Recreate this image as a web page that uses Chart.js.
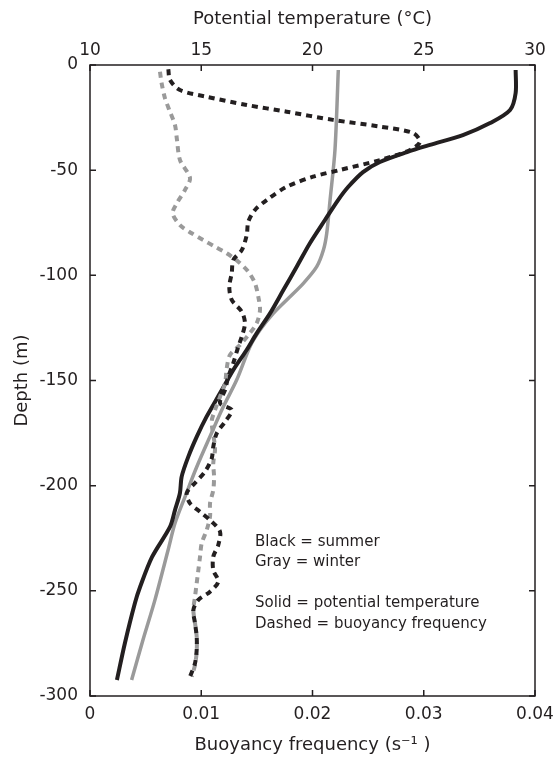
<!DOCTYPE html>
<html><head><meta charset="utf-8">
<style>html,body{margin:0;padding:0;background:#fff;}#wrap{width:556px;height:757px;}</style>
<script src="https://cdn.jsdelivr.net/npm/chart.js@4.4.1/dist/chart.umd.min.js"></script>
</head><body><div id="wrap"><canvas id="c" width="556" height="757"></canvas></div>
<script>
// ---- data (depth in m, temperature in °C, buoyancy frequency in s^-1) ----
const summerTempDepth = [-2.4,-13.3,-21.4,-27.6,-33.3,-38.0,-41.4,-46.1,-50.9,-58.0,-64.2,-73.7,-84.6,-95.9,-107.0,-118.1,-127.6,-135.5,-145.0,-156.1,-167.2,-176.7,-186.2,-195.7,-203.6,-211.6,-219.5,-233.9,-248.2,-255.8,-274.8,-292.4];
const summerTemp      = [29.13,29.13,28.88,27.98,26.76,25.28,24.25,23.03,22.27,21.60,21.15,20.56,19.89,19.29,18.69,18.09,17.49,17.04,16.44,15.84,15.24,14.80,14.42,14.12,14.04,13.82,13.60,12.79,12.25,12.02,11.57,11.21];

const winterTempDepth = [-2.4,-40.4,-64.2,-80.0,-88.0,-95.9,-103.8,-111.7,-118.1,-126.0,-133.9,-149.8,-162.5,-176.7,-191.0,-205.3,-217.9,-230.6,-254.3,-273.4,-292.4];
const winterTemp      = [21.16,21.01,20.79,20.64,20.49,20.19,19.59,18.84,18.24,17.64,17.19,16.59,15.99,15.39,14.80,14.27,13.82,13.51,12.92,12.38,11.87];

const summerFreqDepth = [-2.0,-7.1,-11.9,-15.1,-19.0,-22.2,-26.1,-29.3,-32.3,-36.5,-40.4,-45.2,-49.9,-53.1,-57.9,-64.2,-68.9,-74.5,-80.8,-88.0,-92.7,-99.0,-105.4,-111.7,-117.3,-122.8,-129.2,-133.9,-141.7,-148.2,-154.5,-160.8,-164.0,-169.6,-175.1,-181.5,-187.0,-193.3,-198.7,-203.5,-208.4,-212.4,-217.1,-221.9,-228.2,-233.8,-240.1,-245.6,-250.4,-254.3,-259.1,-265.4,-271.8,-278.1,-284.4,-290.8];
const summerFreq      = [0.00704,0.00719,0.00809,0.01049,0.01409,0.01768,0.02184,0.02607,0.02903,0.02966,0.02877,0.02607,0.02247,0.02005,0.01768,0.01588,0.01483,0.01423,0.01409,0.01364,0.01288,0.01274,0.01252,0.01274,0.01364,0.01393,0.01364,0.01333,0.01288,0.01243,0.01214,0.01169,0.01274,0.01214,0.01139,0.01108,0.01094,0.01034,0.00944,0.00870,0.00899,0.00989,0.01094,0.01169,0.01153,0.01108,0.01108,0.01153,0.01079,0.00974,0.00929,0.00944,0.00959,0.00959,0.00944,0.00899];

const winterFreqDepth = [-3.2,-8.7,-15.8,-22.2,-28.5,-35.7,-45.2,-53.7,-59.4,-65.6,-70.5,-76.1,-80.0,-83.2,-86.4,-89.5,-93.5,-98.3,-103.8,-110.2,-116.5,-122.8,-128.4,-133.1,-137.9,-144.2,-151.3,-157.7,-164.0,-169.6,-182.2,-189.4,-195.7,-202.1,-208.4,-214.7,-221.1,-227.4,-233.8,-240.1,-246.4,-252.8,-259.1,-265.3,-271.8,-278.9,-285.2,-290.8];
const winterFreq      = [0.00629,0.00644,0.00674,0.00719,0.00764,0.00782,0.00809,0.00899,0.00854,0.00782,0.00743,0.00809,0.00914,0.01018,0.01124,0.01229,0.01333,0.01423,0.01483,0.01513,0.01528,0.01498,0.01423,0.01348,0.01258,0.01229,0.01214,0.01169,0.01124,0.01094,0.01124,0.01108,0.01115,0.01108,0.01079,0.01079,0.01049,0.01004,0.00989,0.00974,0.00959,0.00944,0.00929,0.00944,0.00959,0.00959,0.00944,0.00914];

const depthTicks = [0,-50,-100,-150,-200,-250,-300];
const tempTicks = [10,15,20,25,30];
const freqTicks = [0,0.01,0.02,0.03,0.04];
const freqTickLabels = ['0','0.01','0.02','0.03','0.04'];
const notes = ['Black = summer','Gray = winter','','Solid = potential temperature','Dashed = buoyancy frequency'];

// ---- chart ----
const INK = '#231f20', GRAY = '#9a9a9a';
const FONT = "'DejaVu Sans', 'Liberation Sans', Arial, sans-serif";
const zip = (d, v) => d.map((y, i) => ({x: v[i], y}));
Chart.defaults.font.family = FONT;
Chart.defaults.font.size = 17;
Chart.defaults.color = INK;
const TITLE_FONT = { family: FONT, size: 18 };

const frame = {
  id: 'frame',
  afterDraw(chart) {
    const {ctx, chartArea: a, scales} = chart;
    ctx.save();
    ctx.strokeStyle = INK; ctx.lineWidth = 1.5;
    ctx.strokeRect(a.left, a.top, a.right - a.left, a.bottom - a.top);
    const L = 6;
    ctx.beginPath();
    depthTicks.forEach(v => { const p = scales.y.getPixelForValue(v);
      ctx.moveTo(a.left, p); ctx.lineTo(a.left + L, p);
      ctx.moveTo(a.right, p); ctx.lineTo(a.right - L, p); });
    tempTicks.forEach(v => { const p = scales.xT.getPixelForValue(v);
      ctx.moveTo(p, a.top); ctx.lineTo(p, a.top + L); });
    freqTicks.forEach(v => { const p = scales.xN.getPixelForValue(v);
      ctx.moveTo(p, a.bottom); ctx.lineTo(p, a.bottom - L); });
    ctx.stroke();
    ctx.fillStyle = INK; ctx.font = '15px ' + FONT;
    ctx.textAlign = 'left'; ctx.textBaseline = 'middle';
    notes.forEach((t, i) => { if (t) ctx.fillText(t, a.left + 165, a.top + 477 + i * 20.5); });
    ctx.restore();
  }
};

const noSidePad = s => { s.paddingLeft = 0; s.paddingRight = 0; };

new Chart(document.getElementById('c'), {
  type: 'scatter',
  data: { datasets: [
    { label: 'Summer N', data: zip(summerFreqDepth, summerFreq), xAxisID: 'xN', yAxisID: 'y', showLine: true, pointRadius: 0, borderColor: INK, borderWidth: 4, borderDash: [6,5], tension: 0.3, order: 0 },
    { label: 'Winter N', data: zip(winterFreqDepth, winterFreq), xAxisID: 'xN', yAxisID: 'y', showLine: true, pointRadius: 0, borderColor: GRAY, borderWidth: 4, borderDash: [6,5], tension: 0.3, order: 1 },
    { label: 'Summer T', data: zip(summerTempDepth, summerTemp), xAxisID: 'xT', yAxisID: 'y', showLine: true, pointRadius: 0, borderColor: INK, borderWidth: 4, tension: 0.3, order: 2 },
    { label: 'Winter T', data: zip(winterTempDepth, winterTemp), xAxisID: 'xT', yAxisID: 'y', showLine: true, pointRadius: 0, borderColor: GRAY, borderWidth: 3.5, tension: 0.3, order: 3 }
  ]},
  options: {
    responsive: false, animation: false, devicePixelRatio: 1,
    layout: { padding: { left: 0, right: 21, top: 0, bottom: 0 } },
    plugins: { legend: { display: false }, tooltip: { enabled: false } },
    scales: {
      y: { type: 'linear', position: 'left', min: -300, max: 0,
        afterBuildTicks: s => { s.ticks = depthTicks.map(v => ({value: v})); },
        ticks: { padding: 12, callback: v => String(v) },
        grid: { display: false, drawTicks: false }, border: { display: false },
        title: { display: true, text: 'Depth (m)', font: TITLE_FONT, padding: { top: 12, bottom: 0 } },
        afterFit: s => { s.width = 90; s.paddingTop = 0; s.paddingBottom = 0; } },
      xT: { type: 'linear', position: 'top', min: 10, max: 30,
        afterBuildTicks: s => { s.ticks = tempTicks.map(v => ({value: v})); },
        ticks: { padding: 4, maxRotation: 0, callback: v => String(v) },
        grid: { display: false, drawTicks: false }, border: { display: false },
        title: { display: true, text: 'Potential temperature (°C)', font: TITLE_FONT, padding: { top: 9, bottom: 0 } },
        afterFit: s => { s.height = 65; noSidePad(s); } },
      xN: { type: 'linear', position: 'bottom', min: 0, max: 0.04,
        afterBuildTicks: s => { s.ticks = freqTicks.map(v => ({value: v})); },
        ticks: { padding: 8, maxRotation: 0, callback: (v, i) => freqTickLabels[i] },
        grid: { display: false, drawTicks: false }, border: { display: false },
        title: { display: true, text: 'Buoyancy frequency (s⁻¹ )', font: TITLE_FONT, padding: { top: 0, bottom: 1 } },
        afterFit: s => { s.height = 61; noSidePad(s); } }
    }
  },
  plugins: [frame]
});
</script></body></html>
